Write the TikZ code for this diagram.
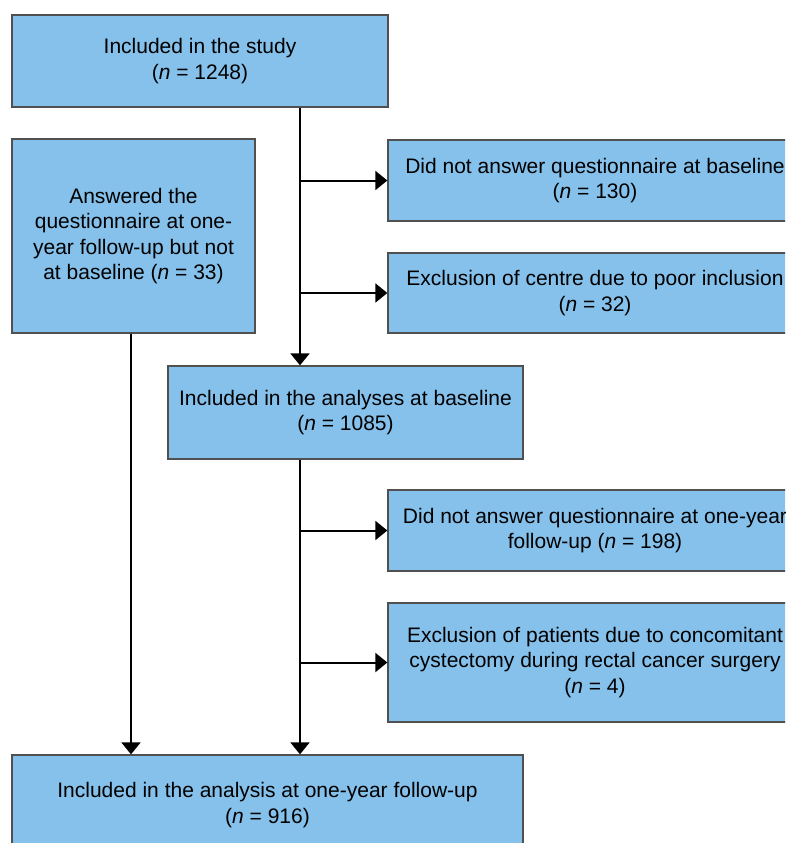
\documentclass[tikz,border=0pt]{standalone}
\usepackage{fontspec}
\setmainfont{Liberation Sans}
\usetikzlibrary{arrows.meta}
\definecolor{boxfill}{RGB}{133,193,235}
\definecolor{boxline}{RGB}{80,80,80}
\newcommand{\nn}{\textit{n}}
\begin{document}
\begin{tikzpicture}[x=1pt,y=-1pt,
  flowbox/.style={draw=boxline,line width=1.3pt,fill=boxfill,align=center,inner sep=0pt,
    font=\fontsize{21}{25.5}\selectfont},
  arr/.style={draw=black,line width=2pt,-{Triangle[width=19pt,length=12pt]}},
  plainline/.style={draw=black,line width=2pt}]
\useasboundingbox (0,0) rectangle (785,843);
\clip (0,0) rectangle (785,843);
\fill[white] (0,0) rectangle (785,843);
\node[flowbox,minimum width=376pt,minimum height=92pt] (top) at (200,61)
  {Included in the study\\(\nn{} = 1248)};
\node[flowbox,minimum width=243pt,minimum height=194pt] (left) at (133.5,236)
  {Answered the\\questionnaire at one-\\year follow-up but not\\at baseline (\nn{} = 33)};
\node[flowbox,minimum width=414pt,minimum height=81pt] (r1) at (595,180.5)
  {Did not answer questionnaire at baseline\\(\nn{} = 130)};
\node[flowbox,minimum width=414pt,minimum height=80pt] (r2) at (595,293)
  {Exclusion of centre due to poor inclusion\\(\nn{} = 32)};
\node[flowbox,minimum width=355pt,minimum height=93pt] (mid) at (345.5,412.5)
  {Included in the analyses at baseline\\(\nn{} = 1085)};
\node[flowbox,minimum width=414pt,minimum height=81pt] (r3) at (595,530.5)
  {Did not answer questionnaire at one-year\\follow-up (\nn{} = 198)};
\node[flowbox,minimum width=414pt,minimum height=119pt] (r4) at (595,662.5)
  {Exclusion of patients due to concomitant\\cystectomy during rectal cancer surgery\\(\nn{} = 4)};
\node[flowbox,minimum width=511pt,minimum height=100pt] (bot) at (267.5,805)
  {Included in the analysis at one-year follow-up\\(\nn{} = 916)};
\coordinate (j1) at (300,180.5);
\coordinate (j2) at (300,293);
\coordinate (j3) at (300,530.5);
\coordinate (j4) at (300,662.5);
\coordinate (cl) at (131,333);
\draw[arr] (top.south -| j1) -- (mid.north -| j1);
\draw[arr] (j1) -- (r1.west);
\draw[arr] (j2) -- (r2.west);
\draw[arr] (mid.south -| j3) -- (bot.north -| j3);
\draw[arr] (j3) -- (r3.west);
\draw[arr] (j4) -- (r4.west);
\draw[arr] (left.south -| cl) -- (bot.north -| cl);
\end{tikzpicture}
\end{document}
